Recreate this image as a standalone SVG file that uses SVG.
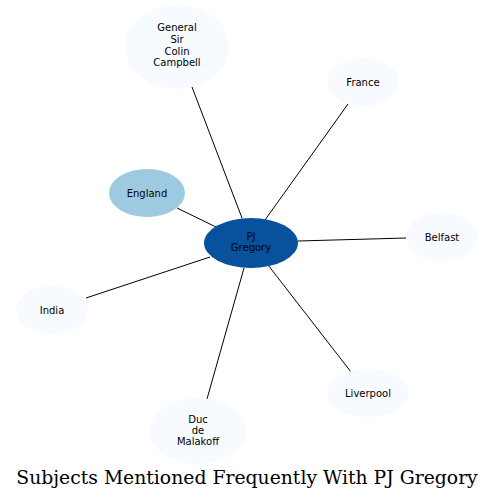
<svg xmlns="http://www.w3.org/2000/svg" width="495" height="501" viewBox="0 0 495 501">
<style>
.n{fill:#f7fbff;stroke:none}
.t{font-family:"DejaVu Sans",sans-serif;font-size:10px;fill:#000;text-anchor:middle}
.e{stroke:#000;stroke-width:1;fill:none}
</style>
<rect width="495" height="501" fill="#fff"/>
<g id="edges">
<path class="e" d="M242,218 L192,87"/>
<path class="e" d="M265,220 L348,104"/>
<path class="e" d="M216,227 L177,208"/>
<path class="e" d="M298,241 L406,238"/>
<path class="e" d="M210,257 L86,298"/>
<path class="e" d="M268,265 L351,372"/>
<path class="e" d="M244,268 L207,399"/>
</g>
<g id="campbell"><ellipse class="n" cx="177" cy="47" rx="52" ry="42"/>
<text class="t" x="177" y="31">General</text><text class="t" x="177" y="43">Sir</text><text class="t" x="177" y="54.5">Colin</text><text class="t" x="177" y="66">Campbell</text></g>
<g id="france"><ellipse class="n" cx="363" cy="82" rx="36" ry="24"/><text class="t" x="363" y="85.5">France</text></g>
<g id="england"><ellipse cx="147" cy="193" rx="38" ry="24" fill="#9ecae1"/><text class="t" x="147" y="196.5">England</text></g>
<g id="pj"><ellipse cx="251" cy="243" rx="47" ry="25" fill="#08519c"/><text class="t" x="251" y="239.5">PJ</text><text class="t" x="251" y="251">Gregory</text></g>
<g id="belfast"><ellipse class="n" cx="442" cy="237" rx="36" ry="24"/><text class="t" x="442" y="240.5">Belfast</text></g>
<g id="india"><ellipse class="n" cx="52" cy="310" rx="36" ry="24"/><text class="t" x="52" y="313.5">India</text></g>
<g id="liverpool"><ellipse class="n" cx="368" cy="393" rx="41" ry="24"/><text class="t" x="368" y="396.5">Liverpool</text></g>
<g id="duc"><ellipse class="n" cx="198" cy="431" rx="48" ry="33"/><text class="t" x="198" y="423">Duc</text><text class="t" x="198" y="434">de</text><text class="t" x="198" y="445">Malakoff</text></g>
<text x="247" y="484" font-family="DejaVu Serif,serif" font-size="18.8" text-anchor="middle">Subjects Mentioned Frequently With PJ Gregory</text>
</svg>
